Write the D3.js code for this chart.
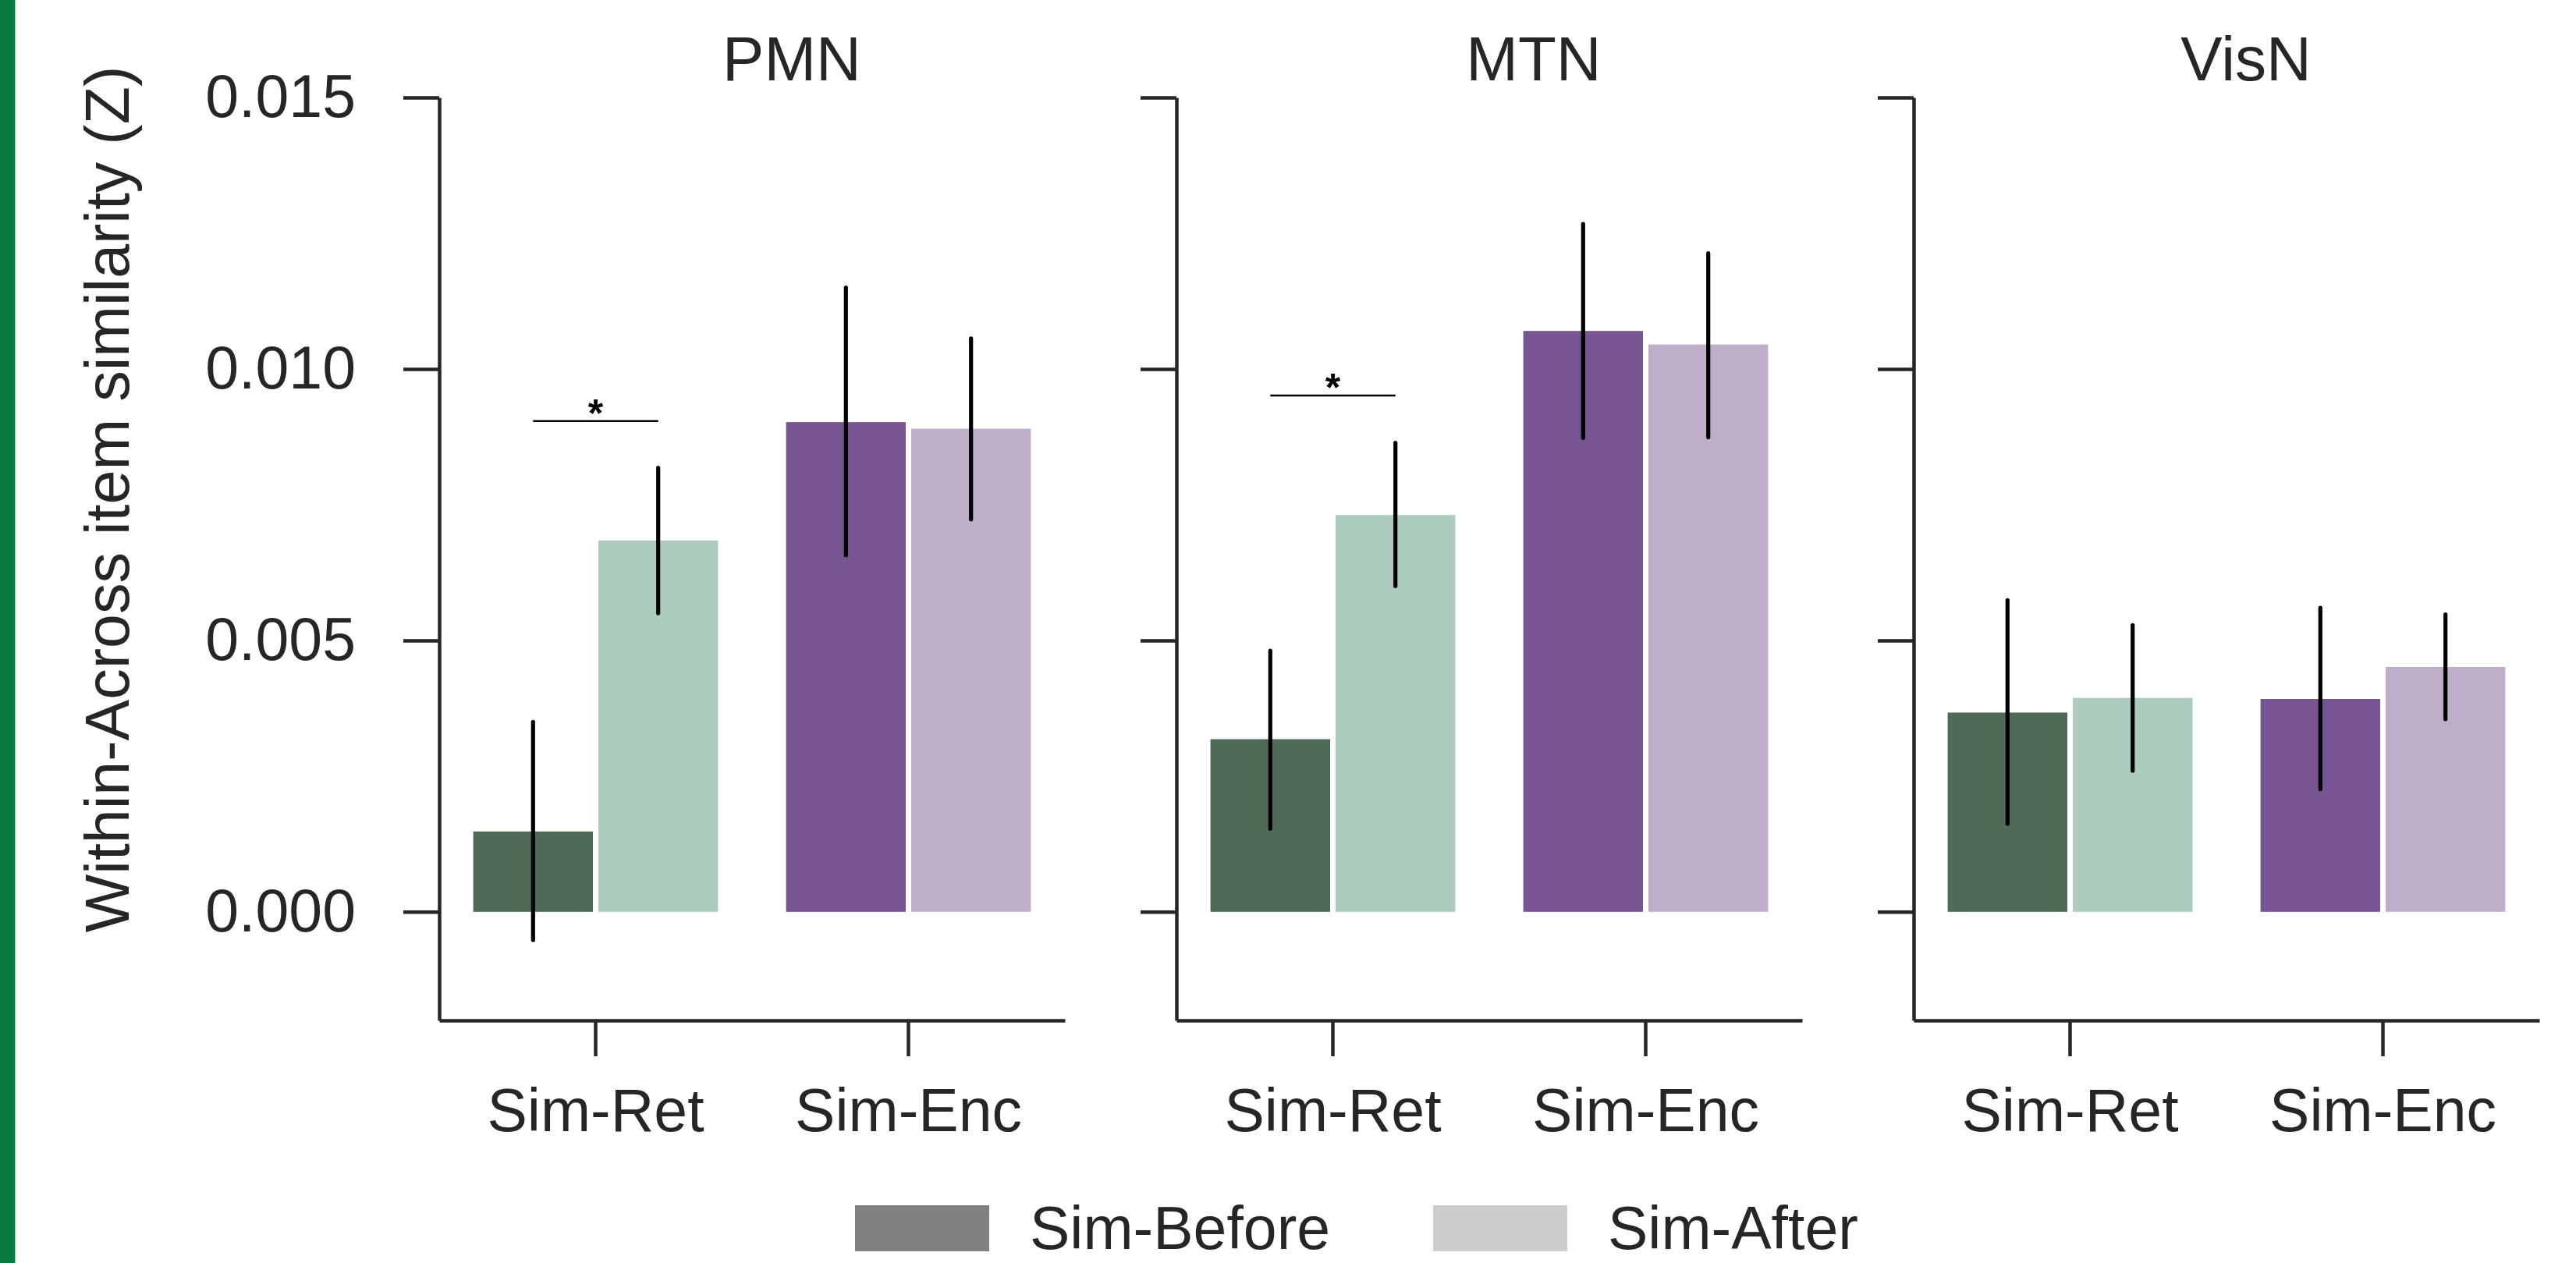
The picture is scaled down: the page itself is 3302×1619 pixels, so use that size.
<!DOCTYPE html>
<html>
<head>
<meta charset="utf-8">
<script src="https://cdn.jsdelivr.net/npm/d3@7"></script>
<style>
  body { margin: 0; background: #fff; }
  text { font-family: "Liberation Sans", Arial, sans-serif; }
</style>
</head>
<body>
<svg id="chart" width="3302" height="1619"></svg>
<script>
// data
var panels = ["PMN", "MTN", "VisN"];
var conditions = ["Sim-Ret", "Sim-Enc"];
var phases = ["Sim-Before", "Sim-After"];
var yTicks = [0, 0.005, 0.010, 0.015];

// order: Ret-Before, Ret-After, Enc-Before, Enc-After
var meanPMN = [0.00148, 0.00684, 0.00902, 0.00890];
var lowPMN  = [-0.00052, 0.00550, 0.00657, 0.00723];
var highPMN = [0.00350, 0.00818, 0.01150, 0.01056];

var meanMTN = [0.00318, 0.00731, 0.01070, 0.01045];
var lowMTN  = [0.00153, 0.00600, 0.00873, 0.00874];
var highMTN = [0.00481, 0.00864, 0.01267, 0.01213];

var meanVisN = [0.00367, 0.00394, 0.00392, 0.00451];
var lowVisN  = [0.00162, 0.00260, 0.00226, 0.00355];
var highVisN = [0.00574, 0.00528, 0.00560, 0.00548];

// significance line (Sim-Ret before vs after), null = none
var sigY = [0.00904, 0.00951, null];

var means = [meanPMN, meanMTN, meanVisN];
var lows = [lowPMN, lowMTN, lowVisN];
var highs = [highPMN, highMTN, highVisN];

// colours
var barColors = {"Sim-Ret": ["#4f6b58", "#aeccbe"], "Sim-Enc": ["#775492", "#bfaec9"]};
var legendColors = ["#808080", "#cccccc"];
var ink = "#262626";

// layout
var plotTop = 125, plotBottom = 1308;
var panelLeft = 563, panelStep = 945, panelW = 802;
var titleDx = [51, 57, 25];
var fs = 77;

var svg = d3.select("#chart");

// green strip on left edge
svg.append("rect").attr("x", 0).attr("y", 0).attr("width", 19).attr("height", 1619).attr("fill", "#077a3f");
svg.append("rect").attr("x", 19).attr("y", 0).attr("width", 1.5).attr("height", 1619).attr("fill", "#9fd4b4");

var y = d3.scaleLinear().domain([-0.002, 0.015]).range([plotBottom, plotTop]);

panels.forEach(function(name, p) {
    var left = panelLeft + p * panelStep;
    var g = svg.append("g").attr("transform", "translate(" + left + ",0)");

    var x = d3.scaleBand().domain(conditions).range([0, panelW]);
    var xInner = d3.scaleBand().domain(phases).range([x.bandwidth() * 0.1, x.bandwidth() * 0.9]);

    // bars
    var rows = [];
    conditions.forEach(function(c, ci) {
        phases.forEach(function(ph, pi) {
            var k = ci * 2 + pi;
            rows.push({cond: c, phase: ph, pi: pi, mean: means[p][k], lo: lows[p][k], hi: highs[p][k]});
        });
    });

    var inset = 3.5;
    g.selectAll(".bar")
        .data(rows)
        .enter().append("rect")
        .attr("class", "bar")
        .attr("x", function(d) { return x(d.cond) + xInner(d.phase) + inset; })
        .attr("width", xInner.bandwidth() - 2 * inset)
        .attr("y", function(d) { return y(Math.max(0, d.mean)); })
        .attr("height", function(d) { return Math.abs(y(d.mean) - y(0)); })
        .attr("fill", function(d) { return barColors[d.cond][d.pi]; });

    // error bars
    g.selectAll(".err")
        .data(rows)
        .enter().append("line")
        .attr("class", "err")
        .attr("x1", function(d) { return x(d.cond) + xInner(d.phase) + xInner.bandwidth() / 2; })
        .attr("x2", function(d) { return x(d.cond) + xInner(d.phase) + xInner.bandwidth() / 2; })
        .attr("y1", function(d) { return y(d.lo); })
        .attr("y2", function(d) { return y(d.hi); })
        .attr("stroke", "#000")
        .attr("stroke-width", 5.2)
        .attr("stroke-linecap", "round");

    // significance marker
    if (sigY[p] !== null) {
        var x1 = x("Sim-Ret") + xInner("Sim-Before") + xInner.bandwidth() / 2;
        var x2 = x("Sim-Ret") + xInner("Sim-After") + xInner.bandwidth() / 2;
        g.append("line")
            .attr("x1", x1).attr("x2", x2)
            .attr("y1", y(sigY[p])).attr("y2", y(sigY[p]))
            .attr("stroke", "#000").attr("stroke-width", 2.5);
        g.append("text")
            .attr("x", (x1 + x2) / 2)
            .attr("y", y(sigY[p]) + 7)
            .attr("text-anchor", "middle")
            .attr("font-size", 50)
            .attr("font-weight", "bold")
            .attr("fill", "#000")
            .text("*");
    }

    // axes
    var yAxis = d3.axisLeft(y).tickValues(yTicks).tickSize(46).tickSizeOuter(0).tickPadding(61)
        .tickFormat(p === 0 ? d3.format(".3f") : "");
    var ya = g.append("g").call(yAxis);

    var xAxis = d3.axisBottom(x).tickSize(46).tickSizeOuter(0).tickPadding(41);
    var xa = g.append("g").attr("transform", "translate(0," + plotBottom + ")").call(xAxis);

    [ya, xa].forEach(function(a) {
        a.select(".domain").attr("stroke", ink).attr("stroke-width", 4.5);
        a.selectAll(".tick line").attr("stroke", ink).attr("stroke-width", 4.5);
        a.selectAll(".tick text").attr("fill", ink).attr("font-size", fs)
            .attr("font-family", "Liberation Sans, Arial, sans-serif");
    });

    // title
    g.append("text")
        .attr("x", panelW / 2 + titleDx[p])
        .attr("y", 103)
        .attr("text-anchor", "middle")
        .attr("font-size", 80)
        .attr("fill", ink)
        .text(name);
});

// y label
svg.append("text")
    .attr("transform", "translate(165,640) rotate(-90)")
    .attr("text-anchor", "middle")
    .attr("font-size", 79)
    .attr("fill", ink)
    .text("Within-Across item similarity (Z)");

// legend
var legendX = [1096, 1837];
phases.forEach(function(ph, i) {
    svg.append("rect")
        .attr("x", legendX[i]).attr("y", 1545)
        .attr("width", 172).attr("height", 59)
        .attr("fill", legendColors[i]);
    svg.append("text")
        .attr("x", legendX[i] + 224).attr("y", 1601)
        .attr("font-size", fs)
        .attr("fill", ink)
        .text(ph);
});
</script>
</body>
</html>
